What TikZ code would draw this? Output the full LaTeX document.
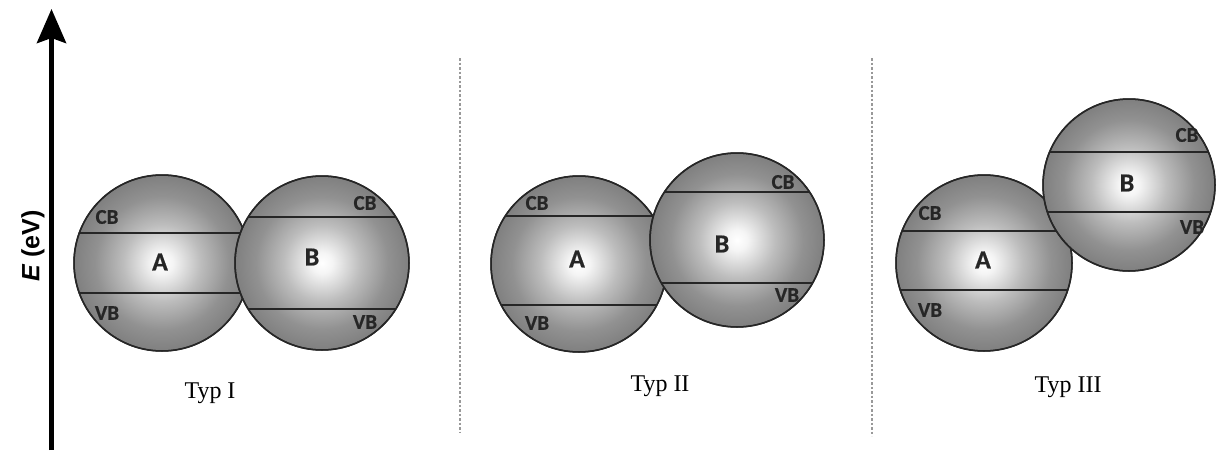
\documentclass[tikz,border=0pt]{standalone}
\usepackage{fontspec}
\setmainfont{Liberation Serif}
\newfontfamily\bandfont[FakeBold=0.6]{Carlito}
\newfontfamily\axisfont{Liberation Sans}
\usetikzlibrary{arrows.meta}

% sphere shading: bright core, grey rim
\pgfdeclareradialshading{sphere}{\pgfpoint{0bp}{0bp}}{%
  color(0bp)=(white);
  color(3bp)=(white!96!black);
  color(11bp)=(black!26);
  color(19bp)=(black!43);
  color(25bp)=(black!50);
  color(50bp)=(black!50)}

\tikzset{
  ball/.style={circle, draw=black!85, line width=1.5pt, shading=sphere, inner sep=0pt},
  band/.style={draw=black!85, line width=2pt},
  bandlbl/.style={font=\bandfont\bfseries\fontsize{21}{21}\selectfont, text=black!85, inner sep=0pt},
  semilbl/.style={font=\bandfont\bfseries\fontsize{26}{26}\selectfont, text=black!85, inner sep=0pt},
  typlbl/.style={font=\fontsize{24}{24}\selectfont, inner sep=0pt},
  divider/.style={draw=black!40, line width=1.3pt, dash pattern=on 2.5pt off 2pt},
}

% #1 name, #2 cx, #3 cy, #4 radius, #5 CB level, #6 VB level
\newcommand{\bandsphere}[6]{%
  \node[ball, minimum size=2*#4 pt] (#1) at (#2,#3) {};
  \begin{scope}
    \clip (#1.center) circle[radius=#4];
    \draw[band] (#2-#4,#5) -- (#2+#4,#5);
    \draw[band] (#2-#4,#6) -- (#2+#4,#6);
  \end{scope}
  \draw[draw=black!85, line width=1.5pt] (#1.center) circle[radius=#4];
}

\begin{document}
\begin{tikzpicture}[x=1pt, y=-1pt]
  \useasboundingbox (0,0) rectangle (1218,450);

  % energy axis
  \coordinate (axbot) at (51.5,450);
  \coordinate (axtop) at (51.5,9);
  \draw[line width=5pt, -{Stealth[length=34pt, width=29pt, inset=5pt]}] (axbot) -- (axtop);
  \node[rotate=90, font=\axisfont\bfseries\fontsize{25}{25}\selectfont, inner sep=0pt] (elabel) at (33,246) {\textit{E} (eV)};

  % dividers between the three cases
  \coordinate (d1t) at (460,58);
  \coordinate (d1b) at (460,433);
  \coordinate (d2t) at (872,58);
  \coordinate (d2b) at (872,436);
  \draw[divider] (d1t) -- (d1b);
  \draw[divider] (d2t) -- (d2b);

  % Typ I : straddling alignment
  \bandsphere{IA}{162}{263}{88}{233}{293}
  \bandsphere{IB}{322}{263}{87}{217}{309}
  \node[bandlbl] (IAcb) at (107,217) {CB};
  \node[bandlbl] (IAvb) at (107,313) {VB};
  \node[semilbl] (IAl) at (160,262) {A};
  \node[bandlbl] (IBcb) at (365,203) {CB};
  \node[bandlbl] (IBvb) at (365,322) {VB};
  \node[semilbl] (IBl) at (312,257) {B};
  \node[typlbl] (t1) at (210,393) {Typ I};

  % Typ II : staggered alignment
  \bandsphere{IIA}{579}{264}{88}{216}{305}
  \bandsphere{IIB}{737}{240}{87}{192}{283}
  \node[bandlbl] (IIAcb) at (537,203) {CB};
  \node[bandlbl] (IIAvb) at (537,323) {VB};
  \node[semilbl] (IIAl) at (577,259) {A};
  \node[bandlbl] (IIBcb) at (783,182) {CB};
  \node[bandlbl] (IIBvb) at (787,295) {VB};
  \node[semilbl] (IIBl) at (722,244) {B};
  \node[typlbl] (t2) at (660,386) {Typ II};

  % Typ III : broken gap alignment
  \bandsphere{IIIA}{984}{263}{88}{231}{290}
  \bandsphere{IIIB}{1129}{185}{86}{152}{212}
  \node[bandlbl] (IIIAcb) at (930,213) {CB};
  \node[bandlbl] (IIIAvb) at (930,310) {VB};
  \node[semilbl] (IIIAl) at (983,260) {A};
  \node[bandlbl] (IIIBcb) at (1187,135) {CB};
  \node[bandlbl] (IIIBvb) at (1192,227) {VB};
  \node[semilbl] (IIIBl) at (1127,183) {B};
  \node[typlbl] (t3) at (1068,387) {Typ III};
\end{tikzpicture}
\end{document}
